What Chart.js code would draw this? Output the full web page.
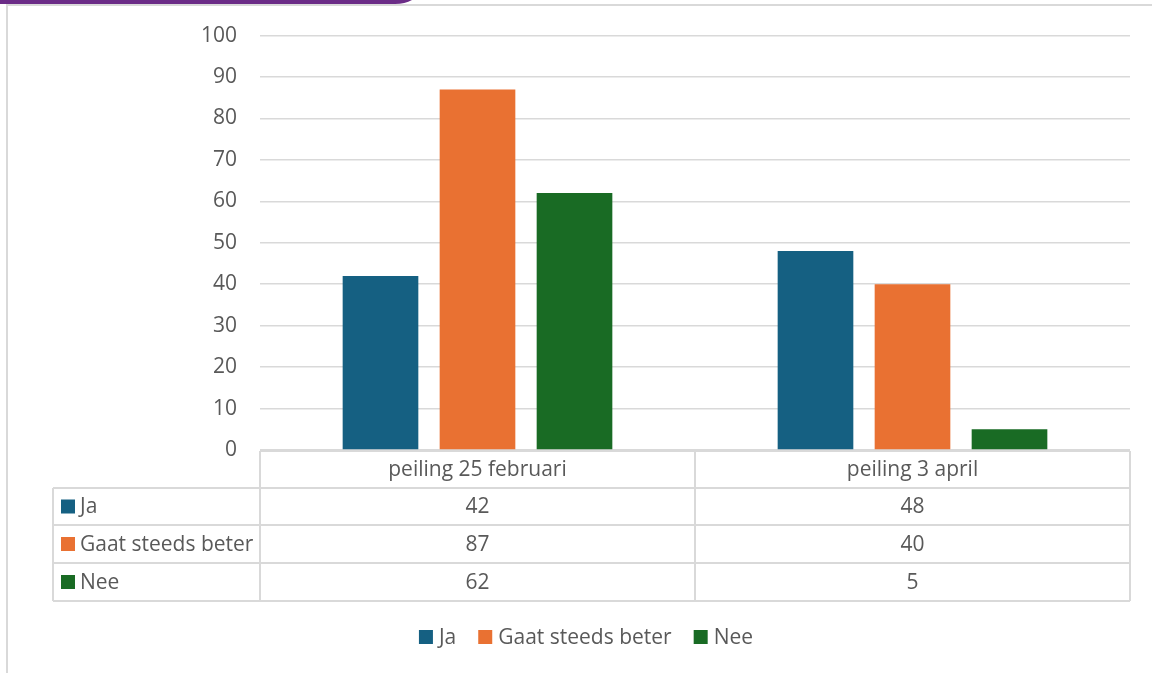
<!DOCTYPE html>
<html>
<head>
<meta charset="utf-8">
<script src="https://cdn.jsdelivr.net/npm/chart.js@4/dist/chart.umd.min.js"></script>
<style>
  html, body { margin: 0; padding: 0; background: #ffffff; }
  #wrap { position: relative; width: 1152px; height: 673px; }
</style>
</head>
<body>
<div id="wrap"><canvas id="c" width="1152" height="673"></canvas></div>
<script>
// ---- data ----
const categories = ['peiling 25 februari', 'peiling 3 april'];
const seriesNames = ['Ja', 'Gaat steeds beter', 'Nee'];
const jaValues = [42, 48];
const gaatValues = [87, 40];
const neeValues = [62, 5];
const yMin = 0;
const yMax = 100;
const yStep = 10;

// ---- style ----
const colors = ['#156082', '#E97132', '#196B24'];
const FONT = '"Open Sans", sans-serif';
const FSIZE = 21;
const TEXT = '#595959';
const LINE = '#d9d9d9';

const seriesValues = [jaValues, gaatValues, neeValues];

const framePlugin = {
  id: 'frame',
  beforeDraw(chart) {
    const ctx = chart.ctx;
    ctx.save();
    ctx.fillStyle = '#fff';
    ctx.fillRect(0, 0, chart.width, chart.height);
    ctx.strokeStyle = LINE;
    ctx.lineWidth = 2;
    ctx.beginPath();
    ctx.moveTo(7, 673);
    ctx.lineTo(7, 5);
    ctx.lineTo(1152, 5);
    ctx.stroke();
    ctx.fillStyle = '#6b2c87';
    ctx.beginPath();
    ctx.moveTo(0, 0);
    ctx.lineTo(412, 0);
    ctx.quadraticCurveTo(405, 4, 395, 4);
    ctx.lineTo(0, 4);
    ctx.closePath();
    ctx.fill();
    ctx.restore();
  }
};

const tablePlugin = {
  id: 'dataTable',
  afterDraw(chart) {
    const ctx = chart.ctx;
    const ca = chart.chartArea;
    const xs = chart.scales.x;
    const n = categories.length;
    const colW = (ca.right - ca.left) / n;
    const top = ca.bottom + 1;
    const rowH = [37, 37, 38, 38];
    const rows = [top];
    rowH.forEach(h => rows.push(rows[rows.length - 1] + h));
    const leftX = 53;
    ctx.save();
    ctx.strokeStyle = LINE;
    ctx.lineWidth = 2;
    ctx.beginPath();
    ctx.moveTo(ca.left, rows[0]); ctx.lineTo(ca.right, rows[0]);
    for (let r = 1; r < rows.length; r++) {
      ctx.moveTo(leftX, rows[r]); ctx.lineTo(ca.right, rows[r]);
    }
    for (let i = 0; i <= n; i++) {
      const x = ca.left + colW * i;
      ctx.moveTo(x, rows[0]); ctx.lineTo(x, rows[rows.length - 1]);
    }
    ctx.moveTo(leftX, rows[1]); ctx.lineTo(leftX, rows[rows.length - 1]);
    ctx.stroke();

    ctx.fillStyle = TEXT;
    ctx.font = FSIZE + 'px ' + FONT;
    ctx.textBaseline = 'middle';
    ctx.textAlign = 'center';
    const dy = 1;
    categories.forEach((c, i) => {
      ctx.fillText(c, xs.getPixelForValue(i), (rows[0] + rows[1]) / 2 + dy);
    });
    seriesNames.forEach((s, si) => {
      const yc = (rows[si + 1] + rows[si + 2]) / 2;
      ctx.fillStyle = colors[si];
      ctx.fillRect(61, yc - 7, 14, 14);
      ctx.fillStyle = TEXT;
      ctx.textAlign = 'left';
      ctx.fillText(s, 80, yc + dy);
      ctx.textAlign = 'center';
      seriesValues[si].forEach((v, i) => {
        ctx.fillText(String(v), xs.getPixelForValue(i), yc + dy);
      });
    });

    // legend
    const ly = 637;
    const items = seriesNames.map((s, i) => ({ s, w: ctx.measureText(s).width, c: colors[i] }));
    const box = 14, gapB = 6, gapI = 22;
    let total = 0;
    items.forEach((it, i) => { total += box + gapB + it.w + (i < items.length - 1 ? gapI : 0); });
    let x = 586 - total / 2;
    ctx.textAlign = 'left';
    items.forEach(it => {
      ctx.fillStyle = it.c;
      ctx.fillRect(x, ly - 7, box, box);
      ctx.fillStyle = TEXT;
      ctx.fillText(it.s, x + box + gapB, ly + dy);
      x += box + gapB + it.w + gapI;
    });
    ctx.restore();
  }
};

new Chart(document.getElementById('c'), {
  type: 'bar',
  data: {
    labels: categories,
    datasets: seriesNames.map((s, i) => ({
      label: s,
      data: seriesValues[i],
      backgroundColor: colors[i],
      borderWidth: 0,
      categoryPercentage: 0.669,
      barPercentage: 0.78
    }))
  },
  options: {
    responsive: false,
    animation: false,
    devicePixelRatio: 1,
    layout: { autoPadding: false, padding: { left: 0, top: 33, right: 22, bottom: 223 } },
    plugins: { legend: { display: false }, tooltip: { enabled: false } },
    scales: {
      x: { display: false },
      y: {
        min: yMin, max: yMax,
        afterFit(scale) { scale.width = 260; },
        border: { display: false },
        grid: { color: LINE, lineWidth: 1.5, drawTicks: false },
        ticks: { stepSize: yStep, padding: 23, color: TEXT, font: { family: FONT, size: FSIZE } }
      }
    }
  },
  plugins: [framePlugin, tablePlugin]
});
</script>
</body>
</html>
